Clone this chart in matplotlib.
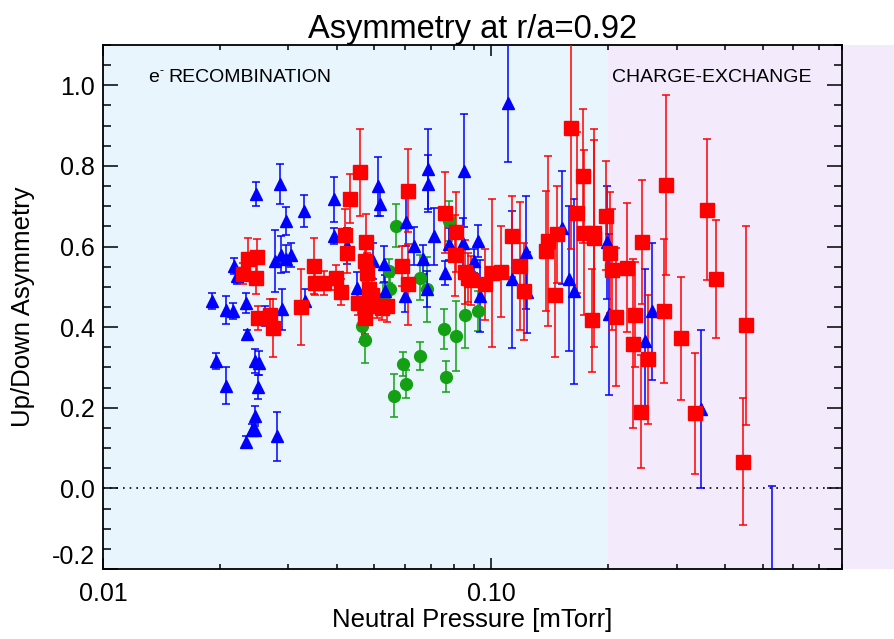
import numpy as np
import matplotlib
matplotlib.use("Agg")
import matplotlib.pyplot as plt
from matplotlib.ticker import FixedLocator, FixedFormatter, LogLocator, MultipleLocator, NullFormatter

plt.rcParams['font.family'] = ['Liberation Sans', 'DejaVu Sans']

# neutral pressure [mTorr], up/down asymmetry and its uncertainty
blue_p = [0.0191, 0.0207, 0.0216, 0.0233, 0.0217, 0.0222, 0.0248, 0.0286, 0.0296, 0.0330,
          0.0278, 0.0288, 0.0296, 0.0305, 0.0289, 0.0195, 0.0208, 0.0235, 0.0246, 0.0252,
          0.0251, 0.0246, 0.0242, 0.0246, 0.0234, 0.0280, 0.0262, 0.0394, 0.0394, 0.0511,
          0.0518, 0.0451, 0.0332, 0.0425, 0.0496, 0.0530, 0.0533, 0.0687, 0.0687, 0.0710,
          0.0634, 0.0758, 0.0683, 0.0667, 0.0600, 0.0604, 0.0852, 0.0845, 0.0924, 0.0780,
          0.0900, 0.0937, 0.1102, 0.1132, 0.1229, 0.1236, 0.1521, 0.1582, 0.1636, 0.1990,
          0.2010, 0.2484, 0.2596, 0.3477, 0.529]
blue_a = [0.465, 0.442, 0.440, 0.459, 0.552, 0.527, 0.730, 0.756, 0.663, 0.688,
          0.564, 0.580, 0.570, 0.580, 0.444, 0.316, 0.255, 0.382, 0.316, 0.311,
          0.252, 0.179, 0.146, 0.144, 0.114, 0.129, 0.427, 0.717, 0.626, 0.749,
          0.705, 0.498, 0.465, 0.601, 0.564, 0.556, 0.490, 0.792, 0.756, 0.625,
          0.601, 0.535, 0.494, 0.568, 0.477, 0.661, 0.788, 0.610, 0.614, 0.607,
          0.564, 0.477, 0.956, 0.519, 0.586, 0.486, 0.647, 0.520, 0.489, 0.611,
          0.432, 0.365, 0.440, 0.196, -0.35]
blue_e = [0.02, 0.035, 0.02, 0.025, 0.02, 0.02, 0.03, 0.05, 0.035, 0.04,
          0.077, 0.045, 0.033, 0.03, 0.05, 0.02, 0.046, 0.01, 0.03, 0.03,
          0.03, 0.025, 0.015, 0.015, 0.015, 0.06, 0.025, 0.056, 0.02, 0.072,
          0.03, 0.04, 0.03, 0.045, 0.045, 0.045, 0.04, 0.10, 0.07, 0.07,
          0.048, 0.03, 0.045, 0.035, 0.04, 0.06, 0.14, 0.06, 0.04, 0.04,
          0.03, 0.09, 0.146, 0.17, 0.14, 0.10, 0.14, 0.18, 0.23, 0.14,
          0.20, 0.18, 0.17, 0.196, 0.355]

green_p = [0.0569, 0.0544, 0.0549, 0.0776, 0.0656, 0.0683, 0.0592, 0.0604, 0.0563, 0.0656,
           0.0757, 0.0764, 0.0809, 0.0856, 0.0922, 0.0473, 0.0464, 0.0527]
green_a = [0.652, 0.539, 0.494, 0.663, 0.523, 0.494, 0.309, 0.259, 0.230, 0.328,
           0.396, 0.277, 0.378, 0.429, 0.440, 0.367, 0.404, 0.469]
green_e = [0.053, 0.03, 0.03, 0.05, 0.055, 0.08, 0.03, 0.035, 0.053, 0.035,
           0.05, 0.038, 0.087, 0.08, 0.05, 0.055, 0.04, 0.04]

red_p = [0.0229, 0.0236, 0.0249, 0.0248, 0.0251, 0.0269, 0.0274, 0.0323, 0.0460, 0.0433,
         0.0420, 0.0425, 0.0476, 0.0350, 0.0352, 0.0370, 0.0398, 0.0411, 0.0473, 0.0478,
         0.0483, 0.0455, 0.0473, 0.0493, 0.0508, 0.0523, 0.0473, 0.0539, 0.0611, 0.0589,
         0.0609, 0.0761, 0.0813, 0.0808, 0.0854, 0.0869, 0.0888, 0.0965, 0.1004, 0.1059,
         0.1131, 0.1188, 0.1216, 0.1397, 0.1385, 0.1477, 0.1456, 0.1605, 0.1663, 0.1723,
         0.1736, 0.1835, 0.1843, 0.1818, 0.1979, 0.2027, 0.2047, 0.2096, 0.2241, 0.2350,
         0.2318, 0.2440, 0.2431, 0.2534, 0.2792, 0.2825, 0.3083, 0.3340, 0.3596, 0.3795,
         0.4454, 0.4515]
red_a = [0.533, 0.570, 0.574, 0.523, 0.423, 0.430, 0.397, 0.450, 0.784, 0.719,
         0.629, 0.585, 0.611, 0.552, 0.509, 0.510, 0.523, 0.487, 0.564, 0.535,
         0.494, 0.460, 0.460, 0.481, 0.452, 0.448, 0.423, 0.452, 0.738, 0.552,
         0.506, 0.684, 0.636, 0.578, 0.537, 0.523, 0.516, 0.506, 0.535, 0.538,
         0.625, 0.552, 0.489, 0.614, 0.589, 0.630, 0.481, 0.893, 0.684, 0.775,
         0.634, 0.634, 0.622, 0.417, 0.676, 0.585, 0.542, 0.425, 0.548, 0.431,
         0.359, 0.611, 0.190, 0.321, 0.440, 0.753, 0.372, 0.186, 0.691, 0.519,
         0.066, 0.405]
red_e = [0.025, 0.05, 0.045, 0.04, 0.03, 0.04, 0.072, 0.094, 0.107, 0.06,
         0.063, 0.05, 0.07, 0.07, 0.03, 0.03, 0.03, 0.033, 0.05, 0.05,
         0.05, 0.03, 0.03, 0.04, 0.03, 0.03, 0.04, 0.04, 0.103, 0.05,
         0.10, 0.10, 0.10, 0.10, 0.08, 0.06, 0.06, 0.087, 0.183, 0.112,
         0.10, 0.159, 0.12, 0.21, 0.15, 0.12, 0.155, 0.30, 0.20, 0.167,
         0.205, 0.23, 0.27, 0.127, 0.135, 0.15, 0.15, 0.171, 0.159, 0.13,
         0.21, 0.153, 0.14, 0.16, 0.179, 0.223, 0.153, 0.15, 0.175, 0.147,
         0.158, 0.247]

x_ticks = [0.01, 0.1]
x_tick_labels = ['0.01', '0.10']
y_ticks = [-0.2, 0.0, 0.2, 0.4, 0.6, 0.8, 1.0]
y_tick_labels = ['-0.2', '0.0', '0.2', '0.4', '0.6', '0.8', '1.0']
p_boundary = 0.2  # recombination / charge-exchange crossover

fig = plt.figure(figsize=(8.94, 6.39), dpi=100)
ax = fig.add_axes([0.1152, 0.1095, 0.8266, 0.8201])
ax.set_xscale('log')
ax.set_xlim(0.01, 0.8)
ax.set_ylim(-0.2, 1.1)

# shaded regimes; the charge-exchange band runs past the right edge of the frame
ax.axvspan(0.01, p_boundary, color='#e8f5fd', zorder=0, lw=0)
ax.axvspan(p_boundary, 1.5, color='#f3ebfc', zorder=0, lw=0, clip_on=False)
ax.axhline(0.0, color='k', ls=(0, (1, 3)), lw=1.2, zorder=1)

eb = dict(ls='none', capsize=3.2, elinewidth=1.1, capthick=1.1, zorder=3)
ax.errorbar(green_p, green_a, yerr=green_e, fmt='o', color='#13a013', ms=8.5, **eb)
ax.errorbar(blue_p, blue_a, yerr=blue_e, fmt='^', color='#0000ff', ms=8.5, **eb)
ax.errorbar(red_p, red_a, yerr=red_e, fmt='s', color='#ff0000', ms=9.5, **eb)

ax.xaxis.set_major_locator(FixedLocator(x_ticks))
ax.xaxis.set_major_formatter(FixedFormatter(x_tick_labels))
ax.xaxis.set_minor_locator(LogLocator(base=10, subs=np.arange(2, 10)))
ax.xaxis.set_minor_formatter(NullFormatter())
ax.yaxis.set_major_locator(FixedLocator(y_ticks))
ax.yaxis.set_major_formatter(FixedFormatter(y_tick_labels))
ax.yaxis.set_minor_locator(MultipleLocator(0.05))

ax.tick_params(which='both', direction='in', top=True, right=True, width=1.1,
               colors='k', labelsize=18)
ax.tick_params(axis='y', which='major', length=10.8, pad=6)
ax.tick_params(axis='y', which='minor', length=5.5)
ax.tick_params(axis='x', which='major', length=8, pad=9)
ax.tick_params(axis='x', which='minor', length=3.6)
for sp in ax.spines.values():
    sp.set_linewidth(1.3)

# keep the lowest y label inside the frame
ax.yaxis.get_major_ticks()[0].label1.set_verticalalignment('bottom')

ax.set_title('Asymmetry at r/a=0.92', fontsize=23.5, pad=5)
ax.set_xlabel('Neutral Pressure [mTorr]', fontsize=18.5)
ax.set_ylabel('Up/Down Asymmetry', fontsize=18.5)
ax.xaxis.set_label_coords(0.5, -0.075)
ax.yaxis.set_label_coords(-0.092, 0.5)

ax.text(0.0609, 0.938, 'e', fontsize=14, va='center', transform=ax.transAxes)
ax.text(0.0771, 0.951, '-', fontsize=9, va='center', transform=ax.transAxes)
ax.text(0.0884, 0.938, 'RECOMBINATION', fontsize=14, va='center', transform=ax.transAxes)
ax.text(0.6888, 0.938, 'CHARGE-EXCHANGE', fontsize=14, va='center', transform=ax.transAxes)

fig.savefig('out.png', dpi=100)
